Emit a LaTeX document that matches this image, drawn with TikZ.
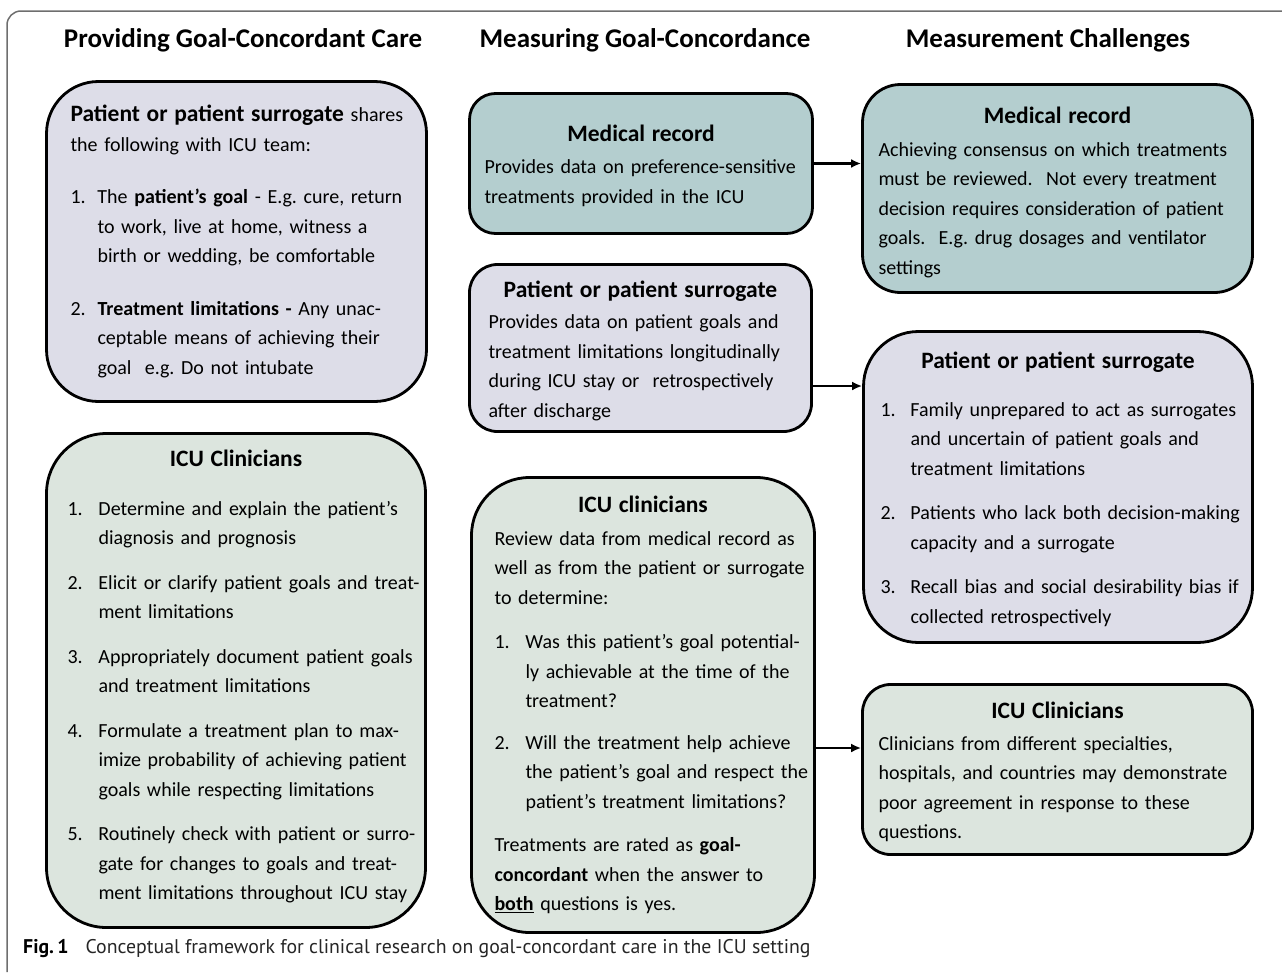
\documentclass[tikz,border=0pt]{standalone}
\usepackage{fontspec}
\setmainfont{Carlito}
\newfontfamily\capfont{PT Sans}
\usetikzlibrary{arrows.meta}

\definecolor{patfill}{RGB}{221,221,232}
\definecolor{recfill}{RGB}{180,206,207}
\definecolor{clinfill}{RGB}{220,229,222}
\definecolor{framegray}{RGB}{110,110,110}

\newcommand{\bodyfont}{\fontsize{20}{29.5}\selectfont\frenchspacing}
\newcommand{\ttlfont}{\fontsize{23.5}{29.5}\selectfont\bfseries}
\newcommand{\headfont}{\fontsize{27}{32}\selectfont\bfseries}
% every printed line is one \mbox, so nothing is broken again;
% the title can be nudged up or down without moving the lines below it
\newcommand{\boxtitle}[3][-1pt]{\vspace*{8pt}{\centering\ttlfont\raisebox{#2}[\height][\depth]{#3}\par}\vspace{#1}}
\newcommand{\numitem}[3]{\par\hangindent=#1\hangafter=1\noindent\makebox[#1][l]{#2}#3\par}

\tikzset{
  card/.style={draw=black, line width=2.8pt, rounded corners=#1, font=\bodyfont,
    inner ysep=0pt},
  card/.default=28pt,
  head/.style={font=\headfont, anchor=base},
  flow/.style={->, line width=2.8pt},
}

\begin{document}
\begin{tikzpicture}[x=1pt, y=-1pt, >={Latex[length=10pt,width=9pt]}]
  \useasboundingbox (0,0) rectangle (1282,972);
  % frame, open to the right and at the bottom
  \draw[framegray, line width=1.5pt, rounded corners=14pt] (7,972) -- (7,11) -- (1282,11);

  % column headings
  \node[head] (hcare) at (243,47) {Providing Goal-Concordant Care};
  \node[head] (hmeas) at (645,47) {Measuring Goal-Concordance};
  \node[head] (hchal) at (1048,47) {Measurement Challenges};

  % providing care
  \node[card=52pt, fill=patfill, text width=332pt, inner xsep=24pt, minimum height=320pt] (share) at (236.5,241.5) {%
    \mbox{{\ttlfont Patient or patient surrogate} shares}\newline
    \mbox{the following with ICU team:}\par\vspace{23pt}
    \numitem{27pt}{1.}{\mbox{The \textbf{patient’s goal} - E.g. cure, return}\newline
      \mbox{to work, live at home, witness a}\newline
      \mbox{birth or wedding, be comfortable}}\vspace{23pt}
    \numitem{27pt}{2.}{\mbox{\textbf{Treatment limitations -} Any unac-}\newline
      \mbox{ceptable means of achieving their}\newline
      \mbox{goal\ \ e.g. Do not intubate}}};
  \node[card=60pt, fill=clinfill, text width=337pt, inner xsep=21pt, minimum height=494pt] (team) at (236,680.5) {%
    \vspace*{-12pt}\boxtitle[15pt]{8pt}{ICU Clinicians}
    \numitem{31pt}{1.}{\mbox{Determine and explain the patient’s}\newline
      \mbox{diagnosis and prognosis}}\vspace{15pt}
    \numitem{31pt}{2.}{\mbox{Elicit or clarify patient goals and treat-}\newline
      \mbox{ment limitations}}\vspace{15pt}
    \numitem{31pt}{3.}{\mbox{Appropriately document patient goals}\newline
      \mbox{and treatment limitations}}\vspace{15pt}
    \numitem{31pt}{4.}{\mbox{Formulate a treatment plan to max-}\newline
      \mbox{imize probability of achieving patient}\newline
      \mbox{goals while respecting limitations}}\vspace{15pt}
    \numitem{31pt}{5.}{\mbox{Routinely check with patient or surro-}\newline
      \mbox{gate for changes to goals and treat-}\newline
      \mbox{ment limitations throughout ICU stay}}};

  % measuring
  \node[card=26pt, fill=recfill, text width=313pt, inner xsep=15pt, minimum height=140pt] (record) at (641,163.5) {%
    \boxtitle{-4pt}{Medical record}
    \mbox{Provides data on preference-sensitive}\newline
    \mbox{treatments provided in the ICU}};
  \node[card=28pt, fill=patfill, text width=304pt, inner xsep=19pt, minimum height=167pt] (source) at (640.5,348) {%
    \boxtitle{-5pt}{Patient or patient surrogate}
    \mbox{Provides data on patient goals and}\newline
    \mbox{treatment limitations longitudinally}\newline
    \mbox{during ICU stay or\ \ retrospectively}\newline
    \mbox{after discharge}};
  \node[card=58pt, fill=clinfill, text width=297pt, inner xsep=23pt, minimum height=455pt] (review) at (643,705) {%
    \vspace*{-4pt}\boxtitle{0pt}{ICU clinicians}
    \mbox{Review data from medical record as}\newline
    \mbox{well as from the patient or surrogate}\newline
    \mbox{to determine:}\par\vspace{15pt}
    \numitem{31pt}{1.}{\mbox{Was this patient’s goal potential-}\newline
      \mbox{ly achievable at the time of the}\newline
      \mbox{treatment?}}\vspace{12pt}
    \numitem{31pt}{2.}{\mbox{Will the treatment help achieve}\newline
      \mbox{the patient’s goal and respect the}\newline
      \mbox{patient’s treatment limitations?}}\vspace{14pt}
    \mbox{Treatments are rated as \textbf{goal-}}\newline
    \mbox{\textbf{concordant} when the answer to}\newline
    \mbox{\underline{\textbf{both}} questions is yes.}};

  % challenges
  \node[card=38pt, fill=recfill, text width=358pt, inner xsep=16pt, minimum height=208pt] (recissue) at (1057.5,188.5) {%
    \vspace*{4pt}\boxtitle{-8pt}{Medical record}
    \mbox{Achieving consensus on which treatments}\newline
    \mbox{must be reviewed.\ \ Not every treatment}\newline
    \mbox{decision requires consideration of patient}\newline
    \mbox{goals.\ \ E.g. drug dosages and ventilator}\newline
    \mbox{settings}};
  \node[card=55pt, fill=patfill, text width=355pt, inner xsep=17pt, minimum height=311pt] (srcissue) at (1058,487) {%
    \boxtitle[15pt]{-5pt}{Patient or patient surrogate}
    \numitem{30pt}{1.}{\mbox{Family unprepared to act as surrogates}\newline
      \mbox{and uncertain of patient goals and}\newline
      \mbox{treatment limitations}}\vspace{15pt}
    \numitem{30pt}{2.}{\mbox{Patients who lack both decision-making}\newline
      \mbox{capacity and a surrogate}}\vspace{15pt}
    \numitem{30pt}{3.}{\mbox{Recall bias and social desirability bias if}\newline
      \mbox{collected retrospectively}}};
  \node[card=28pt, fill=clinfill, text width=358pt, inner xsep=16pt, minimum height=170pt] (clinissue) at (1057.5,769.5) {%
    \boxtitle{-5pt}{ICU Clinicians}
    \mbox{Clinicians from different specialties,}\newline
    \mbox{hospitals, and countries may demonstrate}\newline
    \mbox{poor agreement in response to these}\newline
    \mbox{questions.}};

  % arrows
  \coordinate (srcout) at ([yshift=-38pt]source.east);
  \coordinate (revout) at ([yshift=-43pt]review.east);
  \draw[flow] (record.east) -- (record.east -| recissue.west);
  \draw[flow] (srcout) -- (srcout -| srcissue.west);
  \draw[flow] (revout) -- (revout -| clinissue.west);

  % caption
  \node[anchor=base west, inner sep=0pt, font=\capfont\fontsize{19.8}{22}\selectfont, text=black!85] (caption) at (23,953)
    {\textbf{\color{black}Fig.\,1}\hspace{17pt}Conceptual framework for clinical research on goal-concordant care in the ICU setting};
\end{tikzpicture}
\end{document}
